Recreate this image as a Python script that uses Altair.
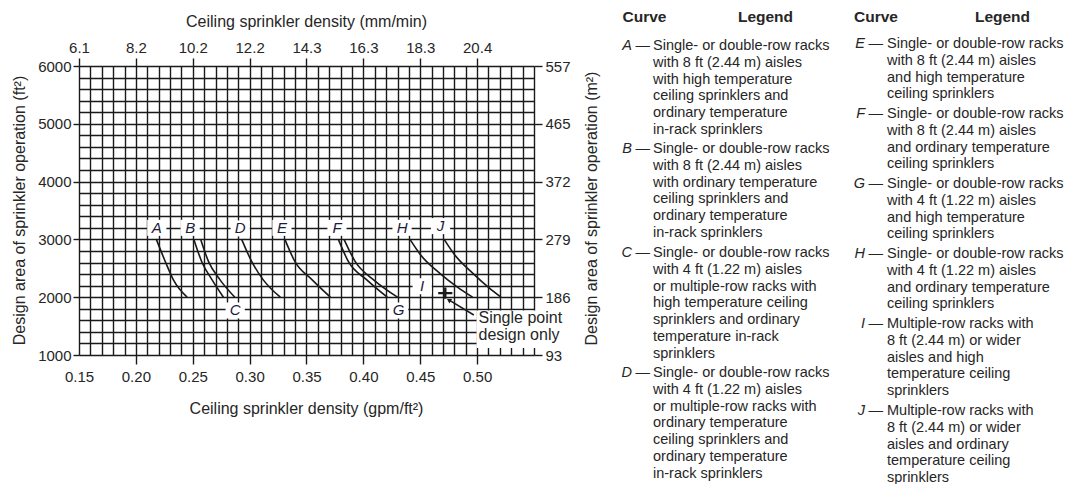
import altair as alt
import pandas as pd

FONT = "Liberation Sans"
INK = "#1a1a1a"
TXT = "#262626"

# ---------------- data ----------------
curve_A_x = [0.218, 0.226, 0.233, 0.245]
curve_B_x = [0.251, 0.258, 0.267, 0.277]
curve_C_x = [0.257, 0.264, 0.274, 0.287]
curve_D_x = [0.293, 0.302, 0.312, 0.327]
curve_E_x = [0.331, 0.340, 0.355, 0.371]
curve_F_x = [0.378, 0.387, 0.403, 0.421]
curve_G_x = [0.383, 0.393, 0.409, 0.430]
curve_4_y = [3000, 2610, 2300, 2000]
curve_H_x = [0.441, 0.450, 0.468, 0.483, 0.496]
curve_J_x = [0.471, 0.480, 0.497, 0.510, 0.521]
curve_5_y = [3000, 2740, 2400, 2170, 2000]

point_I_x = [0.472]
point_I_y = [2070]

label_names = ["A", "B", "C", "D", "E", "F", "G", "H", "I", "J"]
label_x = [0.2184, 0.2477, 0.2873, 0.2917, 0.3284, 0.3768, 0.431, 0.434, 0.4517, 0.4678]
label_y = [3200, 3200, 1770, 3190, 3200, 3200, 1770, 3200, 2190, 3230]

note_lines = ["Single point", "design only"]
note_x = [0.5012, 0.5012]
note_y = [1640, 1346]
note_box = {"x": [0.4995], "x2": [0.576], "y": [1770], "y2": [1120]}
leader = {"x": [0.4751], "y": [1952], "x2": [0.4971], "y2": [1692]}

x_grid_vals = [round(0.15 + 0.01 * i, 2) for i in range(41)]
y_grid_vals = [1000 + 200 * i for i in range(26)]
x_major = [0.15, 0.20, 0.25, 0.30, 0.35, 0.40, 0.45, 0.50]
mm_labels = ["6.1", "8.2", "10.2", "12.2", "14.3", "16.3", "18.3", "20.4"]
y_major = [1000, 2000, 3000, 4000, 5000, 6000]
m2_labels = ["93", "186", "279", "372", "465", "557"]

legend_col1 = {
    "A": ["Single- or double-row racks", "with 8 ft (2.44 m) aisles", "with high temperature",
          "ceiling sprinklers and", "ordinary temperature", "in-rack sprinklers"],
    "B": ["Single- or double-row racks", "with 8 ft (2.44 m) aisles", "with ordinary temperature",
          "ceiling sprinklers and", "ordinary temperature", "in-rack sprinklers"],
    "C": ["Single- or double-row racks", "with 4 ft (1.22 m) aisles", "or multiple-row racks with",
          "high temperature ceiling", "sprinklers and ordinary", "temperature in-rack", "sprinklers"],
    "D": ["Single- or double-row racks", "with 4 ft (1.22 m) aisles", "or multiple-row racks with",
          "ordinary temperature", "ceiling sprinklers and", "ordinary temperature", "in-rack sprinklers"],
}
legend_col2 = {
    "E": ["Single- or double-row racks", "with 8 ft (2.44 m) aisles", "and high temperature",
          "ceiling sprinklers"],
    "F": ["Single- or double-row racks", "with 8 ft (2.44 m) aisles", "and ordinary temperature",
          "ceiling sprinklers"],
    "G": ["Single- or double-row racks", "with 4 ft (1.22 m) aisles", "and high temperature",
          "ceiling sprinklers"],
    "H": ["Single- or double-row racks", "with 4 ft (1.22 m) aisles", "and ordinary temperature",
          "ceiling sprinklers"],
    "I": ["Multiple-row racks with", "8 ft (2.44 m) or wider", "aisles and high",
          "temperature ceiling", "sprinklers"],
    "J": ["Multiple-row racks with", "8 ft (2.44 m) or wider", "aisles and ordinary",
          "temperature ceiling", "sprinklers"],
}

# ---------------- tables ----------------
rows = []
for name, xs, ys in [("A", curve_A_x, curve_4_y), ("B", curve_B_x, curve_4_y), ("C", curve_C_x, curve_4_y),
                     ("D", curve_D_x, curve_4_y), ("E", curve_E_x, curve_4_y), ("F", curve_F_x, curve_4_y),
                     ("G", curve_G_x, curve_4_y), ("H", curve_H_x, curve_5_y), ("J", curve_J_x, curve_5_y)]:
    for xv, yv in zip(xs, ys):
        rows.append({"curve": name, "x": xv, "y": yv})
curves_df = pd.DataFrame(rows)
point_df = pd.DataFrame({"x": point_I_x, "y": point_I_y})
labels_df = pd.DataFrame({"name": label_names, "x": label_x, "y": label_y})
note_df = pd.DataFrame({"t": note_lines, "x": note_x, "y": note_y})
box_df = pd.DataFrame(note_box)
leader_df = pd.DataFrame(leader)

# ---------------- scales / axes ----------------
x_scale = alt.Scale(domain=[0.15, 0.55], nice=False, zero=False)
y_scale = alt.Scale(domain=[1000, 6000], nice=False, zero=False)

major_x = "abs(datum.value*20 - round(datum.value*20)) < 0.01"
common = dict(domain=False, labelFont=FONT, labelFontSize=15, labelColor=TXT,
              titleFont=FONT, titleFontSize=16, titleFontWeight="normal", titleColor=TXT,
              tickColor=INK, tickWidth=1.4, labelOverlap=False, labelFlush=False)

axis_bottom = alt.Axis(
    orient="bottom", values=x_grid_vals, grid=True, gridColor=INK, gridWidth=1.4, gridOpacity=1,
    tickSize=9,
    tickOpacity={"condition": {"test": major_x + " && datum.value > 0.16 && datum.value < 0.54", "value": 1}, "value": 0},
    labelExpr="(" + major_x + " && datum.value < 0.54) ? format(datum.value, '.2f') : ''",
    labelPadding=5,
    title="Ceiling sprinkler density (gpm/ft²)", titleX=227, titleY=53,
    titleAlign="center", titleBaseline="middle", **common)

axis_left = alt.Axis(
    orient="left", values=y_grid_vals, grid=True, gridColor=INK, gridWidth=1.4, gridOpacity=1,
    tickSize=6,
    tickOpacity={"condition": {"test": "datum.value % 1000 == 0", "value": 1}, "value": 0},
    labelExpr="datum.value % 1000 == 0 ? format(datum.value, 'd') : ''",
    labelPadding=2,
    title="Design area of sprinkler operation (ft²)", titleX=-60, titleY=144,
    titleAngle=270, titleAlign="center", titleBaseline="middle", **common)

mm_js = "[" + ",".join("'" + s + "'" for s in mm_labels) + "]"
m2_js = "[" + ",".join("'" + s + "'" for s in m2_labels) + "]"

axis_top = alt.Axis(
    orient="top", values=x_major, grid=False, tickSize=8,
    labelExpr=mm_js + "[round((datum.value-0.15)*20)]", labelPadding=3,
    title="Ceiling sprinkler density (mm/min)", titleX=227, titleY=-45,
    titleAlign="center", titleBaseline="middle", **common)

axis_right = alt.Axis(
    orient="right", values=y_major, grid=False, tickSize=8,
    labelExpr=m2_js + "[round(datum.value/1000)-1]", labelPadding=3,
    title="Design area of sprinkler operation (m²)", titleX=57, titleY=142,
    titleAngle=270, titleAlign="center", titleBaseline="middle", **common)

# ---------------- layers ----------------
curves = alt.Chart(curves_df).mark_line(color=INK, strokeWidth=1.6, interpolate="monotone").encode(
    x=alt.X("x:Q", scale=x_scale, axis=axis_bottom),
    y=alt.Y("y:Q", scale=y_scale, axis=axis_left),
    detail="curve:N",
)

plus = alt.Chart(point_df).mark_point(
    shape="M-1,0L1,0M0,-0.8L0,0.8", size=200, strokeWidth=2.4, color=INK, opacity=1
).encode(
    x=alt.X("x:Q", scale=x_scale, axis=axis_top),
    y=alt.Y("y:Q", scale=y_scale, axis=axis_right),
)

label_boxes = alt.Chart(labels_df).mark_point(
    shape="M-1.2,-1L1.2,-1L1.2,1L-1.2,1Z", size=256, filled=True, color="white", opacity=1, strokeWidth=0
).encode(
    x=alt.X("x:Q", scale=x_scale, axis=None),
    y=alt.Y("y:Q", scale=y_scale, axis=None),
)

label_text = alt.Chart(labels_df).mark_text(
    font=FONT, fontSize=15, fontStyle="italic", color="#1c1c3c", align="center", baseline="middle"
).encode(
    x=alt.X("x:Q", scale=x_scale, axis=None),
    y=alt.Y("y:Q", scale=y_scale, axis=None),
    text="name:N",
)

note_rect = alt.Chart(box_df).mark_rect(color="white", opacity=1).encode(
    x=alt.X("x:Q", scale=x_scale, axis=None), x2="x2:Q",
    y=alt.Y("y:Q", scale=y_scale, axis=None), y2="y2:Q",
)

leader_rule = alt.Chart(leader_df).mark_rule(color=INK, strokeWidth=1.5).encode(
    x=alt.X("x:Q", scale=x_scale, axis=None), x2="x2:Q",
    y=alt.Y("y:Q", scale=y_scale, axis=None), y2="y2:Q",
)

arrow = alt.Chart(leader_df).mark_point(
    shape="triangle-up", size=28, filled=True, color=INK, opacity=1, angle=301
).encode(
    x=alt.X("x:Q", scale=x_scale, axis=None),
    y=alt.Y("y:Q", scale=y_scale, axis=None),
)

note_text = alt.Chart(note_df).mark_text(
    font=FONT, fontSize=16, color=TXT, align="left", baseline="middle"
).encode(
    x=alt.X("x:Q", scale=x_scale, axis=None),
    y=alt.Y("y:Q", scale=y_scale, axis=None),
    text="t:N",
)

one_row = alt.Data(values=[{"k": 0}])
LEG_FS = 14.5
LEG_LH = 16.8

legend_layers = []
for txt, xc in [("Curve", 565.5), ("Legend", 686.5), ("Curve", 797), ("Legend", 923.5)]:
    legend_layers.append(
        alt.Chart(one_row).mark_text(font=FONT, fontSize=15.5, fontWeight="bold", color=TXT,
                                     align="center", baseline="middle").encode(
            x=alt.value(xc), y=alt.value(-49.5), text=alt.value(txt)))

col1_y = {"A": -21, "B": 82, "C": 186, "D": 306}
col2_y = {"E": -23, "F": 47, "G": 117, "H": 187, "I": 257, "J": 344}
for entries, ypos, xr, xt in [(legend_col1, col1_y, 571, 574), (legend_col2, col2_y, 804, 808)]:
    for letter, lines in entries.items():
        yb = ypos[letter] + 5
        legend_layers.append(
            alt.Chart(one_row).mark_text(font=FONT, fontSize=LEG_FS, fontStyle="italic", color=TXT,
                                         align="right", baseline="alphabetic").encode(
                x=alt.value(xr - 18), y=alt.value(yb), text=alt.value(letter)))
        legend_layers.append(
            alt.Chart(one_row).mark_text(font=FONT, fontSize=LEG_FS, color=TXT, align="right",
                                         baseline="alphabetic").encode(
                x=alt.value(xr), y=alt.value(yb), text=alt.value("—")))
        legend_layers.append(
            alt.Chart(one_row).mark_text(font=FONT, fontSize=LEG_FS, color=TXT, align="left",
                                         baseline="alphabetic", lineHeight=LEG_LH).encode(
                x=alt.value(xt), y=alt.value(yb), text=alt.value(lines)))

chart = alt.layer(
    curves, plus, label_boxes, label_text, note_rect, leader_rule, arrow, note_text, *legend_layers
).resolve_axis(x="independent", y="independent").properties(
    width=455, height=289,
    autosize=alt.AutoSizeParams(type="none"),
    padding={"left": 71, "top": 58, "right": 532, "bottom": 129},
).configure_view(strokeWidth=0).configure(background="white")

chart.save("out.html", embed_options={"renderer": "svg", "actions": False})
